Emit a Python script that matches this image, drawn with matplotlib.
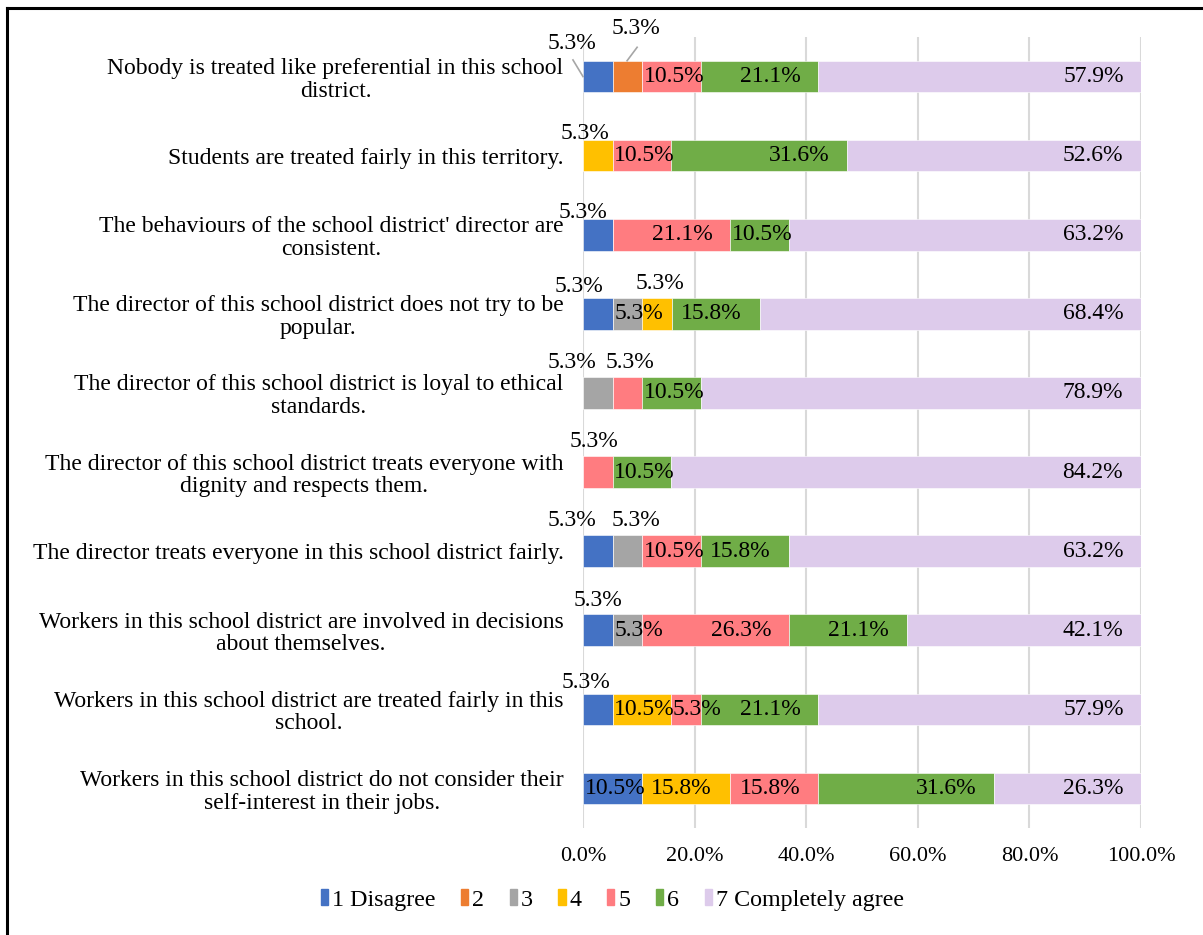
import matplotlib
matplotlib.use("Agg")
import matplotlib.pyplot as plt
from matplotlib.lines import Line2D
from matplotlib.patches import Rectangle
import numpy as np

plt.rcParams['font.family'] = ['Liberation Serif', 'DejaVu Serif']

statements = [
    "Nobody is treated like preferential in this school\ndistrict.",
    "Students are treated fairly in this territory.",
    "The behaviours of the school district' director are\nconsistent.",
    "The director of this school district does not try to be\npopular.",
    "The director of this school district is loyal to ethical\nstandards.",
    "The director of this school district treats everyone with\ndignity and respects them.",
    "The director treats everyone in this school district fairly.",
    "Workers in this school district are involved in decisions\nabout themselves.",
    "Workers in this school district are treated fairly in this\nschool.",
    "Workers in this school district do not consider their\nself-interest in their jobs.",
]

levels = ["1 Disagree", "2", "3", "4", "5", "6", "7 Completely agree"]
colors = ["#4472C4", "#ED7D31", "#A5A5A5", "#FFC000", "#FF7C80", "#70AD47", "#DDCBEB"]

# percent answering each level, one list per level (rows top to bottom)
lvl1 = [5.3, 0.0, 5.3, 5.3, 0.0, 0.0, 5.3, 5.3, 5.3, 10.5]
lvl2 = [5.3, 0.0, 0.0, 0.0, 0.0, 0.0, 0.0, 0.0, 0.0, 0.0]
lvl3 = [0.0, 0.0, 0.0, 5.3, 5.3, 0.0, 5.3, 5.3, 0.0, 0.0]
lvl4 = [0.0, 5.3, 0.0, 5.3, 0.0, 0.0, 0.0, 0.0, 10.5, 15.8]
lvl5 = [10.5, 10.5, 21.1, 0.0, 5.3, 5.3, 10.5, 26.3, 5.3, 15.8]
lvl6 = [21.1, 31.6, 10.5, 15.8, 10.5, 10.5, 15.8, 21.1, 21.1, 31.6]
lvl7 = [57.9, 52.6, 63.2, 68.4, 78.9, 84.2, 63.2, 42.1, 57.9, 26.3]

# small segments whose labels sit above the bar: (row, level) -> (x in %, y offset in rows)
moved = {
    (0, 0): (-2.0, -0.42), (0, 1): (9.5, -0.61),
    (1, 3): (0.4, -0.28),
    (2, 0): (0.0, -0.28),
    (3, 0): (-0.7, -0.34), (3, 3): (13.8, -0.38),
    (4, 2): (-2.0, -0.39), (4, 4): (8.4, -0.39),
    (5, 4): (2.0, -0.39),
    (6, 0): (-2.0, -0.39), (6, 2): (9.5, -0.39),
    (7, 0): (2.7, -0.37),
    (8, 0): (0.5, -0.34),
}
# leader lines for the top row
leaders = [((-1.8, -0.21), (0.0, 0.0)), ((9.7, -0.37), (7.9, -0.2))]

data = np.array([lvl1, lvl2, lvl3, lvl4, lvl5, lvl6, lvl7])
rows = np.arange(len(statements))
LABEL_SIZE = 17
END_PAD = 3.2  # gap between label and segment end, in %

fig = plt.figure(figsize=(12.03, 9.35), dpi=100)
ax = fig.add_axes([583 / 1203, 1 - 828 / 935, (1141 - 583) / 1203, (828 - 37) / 935])
ax.set_xlim(0, 100)
ax.set_ylim(9.5, -0.5)
renderer = fig.canvas.get_renderer()

left = np.zeros(len(statements))
for k in range(len(levels)):
    ax.barh(rows, data[k], left=left, height=0.4, color=colors[k],
            edgecolor='white', linewidth=0.4, label=levels[k], zorder=3)
    for r in rows:
        v = data[k][r]
        if v <= 0:
            continue
        s = "%.1f%%" % v
        if (r, k) in moved:
            dx, dy = moved[(r, k)]
            ax.text(dx, r + dy, s, ha='center', va='center',
                    fontsize=LABEL_SIZE, zorder=5, clip_on=False)
            continue
        # inside-end label; slide to the segment start when it does not fit
        start, end = left[r], left[r] + v
        t = ax.text(end - END_PAD, r, s, ha='right', va='center',
                    fontsize=LABEL_SIZE, zorder=5)
        bb = t.get_window_extent(renderer)
        x0 = ax.transData.inverted().transform((bb.x0, bb.y0))[0]
        if x0 < start:
            t.set_x(start + 0.3)
            t.set_ha('left')
    left += data[k]

for (x0, y0), (x1, y1) in leaders:
    ax.plot([x0, x1], [y0, y1], color='#A6A6A6', lw=1.2, zorder=4, clip_on=False)

ax.set_xticks(np.arange(0, 101, 20))
ax.set_xticklabels(["%.1f%%" % t for t in np.arange(0, 101, 20)])
ax.set_yticks(rows)
ax.set_yticklabels(statements, multialignment='center', linespacing=1.1)
ax.tick_params(axis='both', length=0, labelsize=17)
ax.tick_params(axis='x', pad=14, labelsize=16)
ax.tick_params(axis='y', pad=14)
ax.grid(axis='x', color='#D9D9D9', lw=1.5, zorder=0)
for s in ax.spines.values():
    s.set_visible(False)

handles = [Rectangle((0, 0), 1, 1, color=c) for c in colors]
fig.legend(handles, levels, loc='center', bbox_to_anchor=(0.509, 1 - 900 / 935),
           ncol=7, frameon=False, fontsize=17.3, handlelength=0.3, handleheight=0.65,
           handletextpad=0.18, columnspacing=1.05)

# frame edges around the figure
fig.add_artist(Line2D([7 / 1203, 7 / 1203], [0, 1 - 8 / 935], color='black', lw=2.2))
fig.add_artist(Line2D([7 / 1203, 1], [1 - 8 / 935, 1 - 8 / 935], color='black', lw=2.2))

fig.savefig("out.png", dpi=100)
